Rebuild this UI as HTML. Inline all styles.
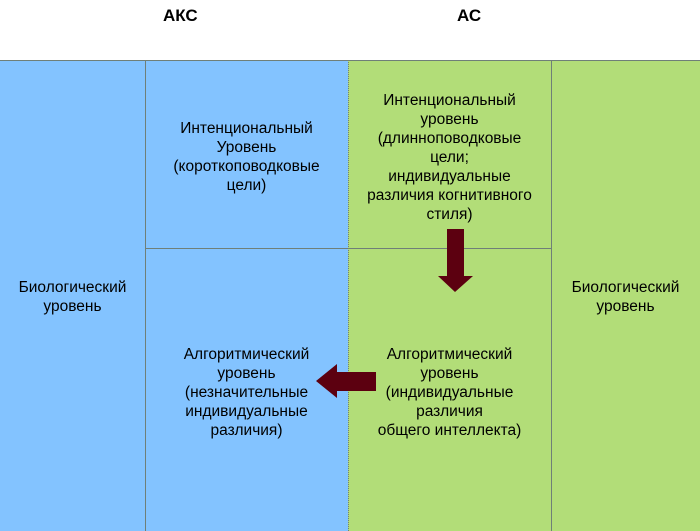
<!DOCTYPE html>
<html><head><meta charset="utf-8"><style>
body{margin:0;width:700px;height:531px;position:relative;background:#fff;font-family:"Liberation Sans",sans-serif;overflow:hidden}
.r{position:absolute}
.t{position:absolute;text-align:center;font-size:15.5px;line-height:19px;color:#000}
.h{position:absolute;font-weight:bold;font-size:17px;top:6px}
</style></head><body>
<div class="h" style="left:163px">АКС</div>
<div class="h" style="left:457px">АС</div>
<div class="r" style="left:0;top:60px;width:348px;height:471px;background:#83c3ff"></div>
<div class="r" style="left:348px;top:60px;width:352px;height:471px;background:#b2dd78"></div>
<svg class="r" style="left:0;top:0" width="700" height="531">
<g stroke="#6f7f78" stroke-width="1">
<line x1="0" y1="60.5" x2="700" y2="60.5"/>
<line x1="145.5" y1="60" x2="145.5" y2="531"/>
<line x1="348.5" y1="60" x2="348.5" y2="531" stroke-dasharray="1,1"/>
<line x1="551.5" y1="60" x2="551.5" y2="531"/>
<line x1="145" y1="248.5" x2="551" y2="248.5"/>
</g>
<polygon fill="#5c0010" points="447,229 464,229 464,276 473,276 455,292 438,276 447,276"/>
<polygon fill="#5c0010" points="376,372 337,372 337,364 316,381 337,398 337,391 376,391"/>
</svg>
<div class="t" style="left:0;top:278px;width:145px">Биологический<br>уровень</div>
<div class="t" style="left:551px;top:278px;width:149px">Биологический<br>уровень</div>
<div class="t" style="left:145px;top:119px;width:203px">Интенциональный<br>Уровень<br>(короткоповодковые<br>цели)</div>
<div class="t" style="left:348px;top:91px;width:203px">Интенциональный<br>уровень<br>(длинноповодковые<br>цели;<br>индивидуальные<br>различия когнитивного<br>стиля)</div>
<div class="t" style="left:145px;top:345px;width:203px">Алгоритмический<br>уровень<br>(незначительные<br>индивидуальные<br>различия)</div>
<div class="t" style="left:348px;top:345px;width:203px">Алгоритмический<br>уровень<br>(индивидуальные<br>различия<br>общего интеллекта)</div>
</body></html>
